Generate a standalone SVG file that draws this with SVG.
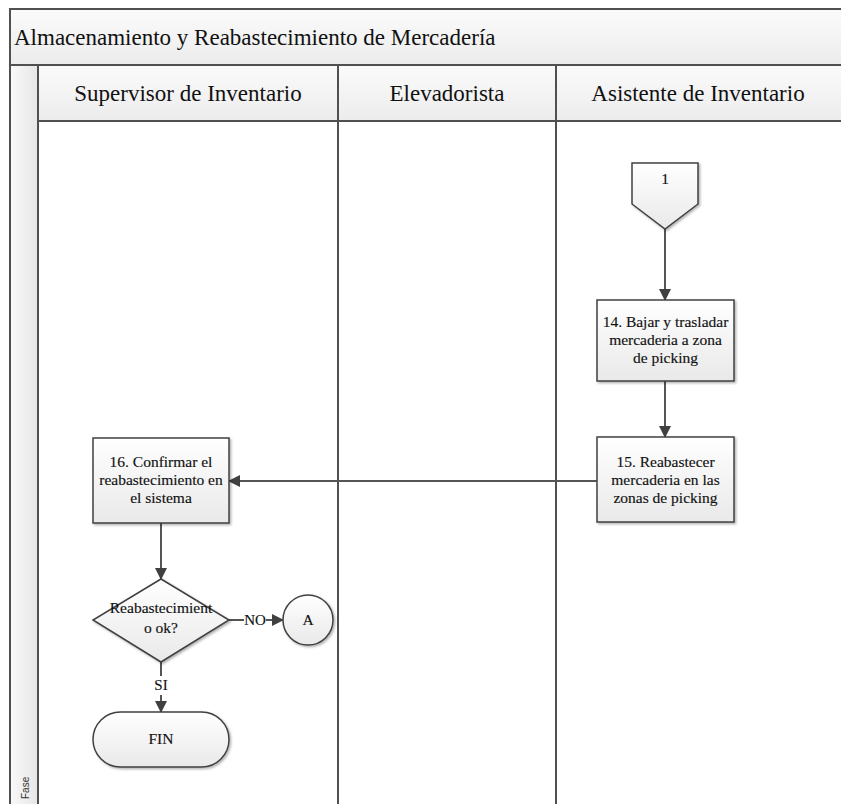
<svg xmlns="http://www.w3.org/2000/svg" width="841" height="804" viewBox="0 0 841 804">
  <defs>
    <linearGradient id="hdr" x1="0" y1="0" x2="0" y2="1">
      <stop offset="0" stop-color="#fbfbfb"/>
      <stop offset="1" stop-color="#ececec"/>
    </linearGradient>
    <linearGradient id="strip" x1="0" y1="0" x2="1" y2="0">
      <stop offset="0" stop-color="#f9f9f9"/>
      <stop offset="1" stop-color="#e6e6e6"/>
    </linearGradient>
    <linearGradient id="shape" x1="0" y1="0" x2="0" y2="1">
      <stop offset="0" stop-color="#ffffff"/>
      <stop offset="1" stop-color="#e9e9e9"/>
    </linearGradient>
    <filter id="shadow" x="-10%" y="-10%" width="130%" height="130%">
      <feDropShadow dx="1.5" dy="1.5" stdDeviation="1.2" flood-color="#000" flood-opacity="0.3"/>
    </filter>
    <marker id="arr" viewBox="0 0 12 12" refX="11" refY="6" markerWidth="12" markerHeight="12" orient="auto" markerUnits="userSpaceOnUse">
      <path d="M0,0 L12,6 L0,12 z" fill="#404040"/>
    </marker>
  </defs>
  <style>
    text { font-family: 'Liberation Serif', serif; }
    .lane { stroke: #505050; stroke-width: 2; fill: none; }
    .frame { stroke: #505050; stroke-width: 2; }
    .title { font-size: 23px; fill: #111; }
    .head { font-size: 23px; fill: #111; text-anchor: middle; }
    .box { fill: url(#shape); stroke: #404040; stroke-width: 1.5; filter: url(#shadow); }
    .txt { font-size: 15.5px; fill: #111; stroke: #111; stroke-width: 0.15; text-anchor: middle; }
    .conn { stroke: #555; stroke-width: 2; fill: none; marker-end: url(#arr); }
    .plain { stroke: #555; stroke-width: 2; fill: none; }
    .lbl { font-size: 15px; fill: #111; stroke: #111; stroke-width: 0.15; text-anchor: middle; }
    .fase { font-family: 'Liberation Sans', sans-serif; font-size: 10px; fill: #333; }
  </style>

  <rect width="841" height="804" fill="#ffffff"/>

  <!-- pool header, phase strip and lanes -->
  <g id="pool" font-family="Liberation Serif">
    <rect x="10" y="9" width="840" height="56" fill="url(#hdr)" class="frame"/>
    <rect x="10" y="65" width="28" height="760" fill="url(#strip)" class="frame"/>
    <rect x="38" y="65" width="812" height="56" fill="url(#hdr)" class="frame"/>
    <line x1="338" y1="65" x2="338" y2="810" class="lane"/>
    <line x1="556" y1="65" x2="556" y2="810" class="lane"/>
    <line x1="38" y1="121" x2="38" y2="810" class="lane"/>
    <text x="14" y="45" class="title" font-family="Liberation Serif">Almacenamiento y Reabastecimiento de Mercadería</text>
    <text x="188" y="101" class="head" font-family="Liberation Serif">Supervisor de Inventario</text>
    <text x="447" y="101" class="head" font-family="Liberation Serif">Elevadorista</text>
    <text x="698" y="101" class="head" font-family="Liberation Serif">Asistente de Inventario</text>
    <text transform="translate(29,799) rotate(-90)" class="fase">Fase</text>
  </g>

  <!-- connectors -->
  <g id="connectors" font-family="Liberation Serif">
    <line x1="665" y1="229" x2="665" y2="300" class="conn"/>
    <line x1="665" y1="381" x2="665" y2="437" class="conn"/>
    <line x1="597" y1="481" x2="229" y2="481" class="conn"/>
    <line x1="161" y1="523" x2="161" y2="579" class="conn"/>
    <line x1="229" y1="620" x2="244" y2="620" class="plain"/>
    <line x1="266" y1="620" x2="283" y2="620" class="conn"/>
    <text x="255" y="625" class="lbl" font-family="Liberation Serif">NO</text>
    <line x1="161" y1="662" x2="161" y2="676" class="plain"/>
    <line x1="161" y1="695" x2="161" y2="712" class="conn"/>
    <text x="161" y="690" class="lbl" font-family="Liberation Serif">SI</text>
  </g>

  <!-- off-page connector 1 -->
  <g id="node-1" font-family="Liberation Serif">
    <path d="M632,163 L698,163 L698,204 L665,229 L632,204 Z" class="box"/>
    <text x="665" y="184" class="txt" font-family="Liberation Serif">1</text>
  </g>

  <g id="node-14" font-family="Liberation Serif">
    <rect x="597" y="300" width="137" height="81" class="box"/>
    <text x="665.5" y="327" class="txt" font-family="Liberation Serif">14. Bajar y trasladar</text>
    <text x="665.5" y="345" class="txt" font-family="Liberation Serif">mercaderia a zona</text>
    <text x="665.5" y="363" class="txt" font-family="Liberation Serif">de picking</text>
  </g>

  <g id="node-15" font-family="Liberation Serif">
    <rect x="597" y="437" width="137" height="85" class="box"/>
    <text x="665.5" y="467" class="txt" font-family="Liberation Serif">15. Reabastecer</text>
    <text x="665.5" y="485" class="txt" font-family="Liberation Serif">mercaderia en las</text>
    <text x="665.5" y="503" class="txt" font-family="Liberation Serif">zonas de picking</text>
  </g>

  <g id="node-16" font-family="Liberation Serif">
    <rect x="93" y="438" width="136" height="85" class="box"/>
    <text x="161" y="467" class="txt" font-family="Liberation Serif">16. Confirmar el</text>
    <text x="161" y="485" class="txt" font-family="Liberation Serif">reabastecimiento en</text>
    <text x="161" y="503" class="txt" font-family="Liberation Serif">el sistema</text>
  </g>

  <g id="node-decision" font-family="Liberation Serif">
    <path d="M161,579 L229,620 L161,662 L93,620 Z" class="box"/>
    <text x="161" y="613" class="txt" font-family="Liberation Serif">Reabastecimient</text>
    <text x="161" y="633" class="txt" font-family="Liberation Serif">o ok?</text>
  </g>

  <g id="node-A" font-family="Liberation Serif">
    <circle cx="308" cy="620" r="25" class="box"/>
    <text x="308" y="625" class="txt" font-family="Liberation Serif">A</text>
  </g>

  <g id="node-fin" font-family="Liberation Serif">
    <rect x="93" y="712" width="136" height="55" rx="27.5" ry="27.5" class="box"/>
    <text x="161" y="744" class="txt" font-family="Liberation Serif">FIN</text>
  </g>
</svg>
